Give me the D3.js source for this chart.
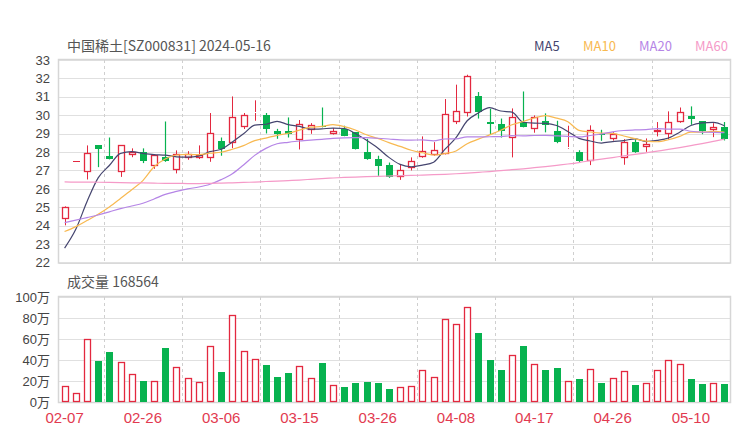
<!DOCTYPE html>
<html><head><meta charset="utf-8">
<script src="https://cdn.jsdelivr.net/npm/d3@7"></script>
<style>body{margin:0;background:#fff}svg{display:block}</style>
</head><body>
<script>
const dates=["02-07","02-08","02-19","02-20","02-21","02-22","02-23","02-26","02-27","02-28","02-29","03-01","03-04","03-05","03-06","03-07","03-08","03-11","03-12","03-13","03-14","03-15","03-18","03-19","03-20","03-21","03-22","03-25","03-26","03-27","03-28","03-29","04-01","04-02","04-03","04-08","04-09","04-10","04-11","04-12","04-15","04-16","04-17","04-18","04-19","04-22","04-23","04-24","04-25","04-26","04-29","04-30","05-06","05-07","05-08","05-09","05-10","05-13","05-14","05-15"];
const open=[24.36,27.54,26.89,28.36,27.80,26.89,27.82,27.98,27.22,27.71,27.00,27.67,27.67,27.67,28.61,28.50,29.36,30.12,29.99,29.12,29.16,28.65,29.21,29.41,28.97,29.26,29.07,28.00,27.62,27.31,26.62,27.13,27.71,27.82,27.89,29.61,30.12,31.02,29.63,29.55,28.76,29.63,29.23,29.70,29.12,28.20,28.00,27.49,28.98,28.69,27.69,28.54,28.29,29.08,28.99,29.61,29.95,29.66,29.18,29.37];
const high=[25.05,27.54,28.36,28.38,28.79,28.38,28.20,28.20,27.87,29.66,28.09,28.05,28.36,30.12,28.79,31.02,30.12,30.81,30.12,29.26,29.88,29.74,29.57,30.42,29.30,29.43,29.08,28.72,27.80,27.43,27.31,27.71,28.85,28.54,30.88,31.66,32.20,31.26,30.35,29.82,30.37,31.29,29.99,30.10,29.70,29.43,28.10,29.45,29.21,29.08,28.70,28.72,28.74,29.63,30.21,30.42,30.48,29.68,29.57,29.63];
const low=[24.02,27.54,26.51,27.18,27.60,26.65,27.72,27.40,27.09,27.47,26.84,27.58,27.62,27.47,27.80,28.21,29.25,29.70,29.01,28.72,28.79,28.14,28.99,29.34,28.95,28.86,28.14,27.58,26.71,26.60,26.49,27.00,27.69,27.80,27.87,29.52,29.93,29.82,28.97,28.79,27.71,29.34,29.05,29.07,28.48,28.18,27.43,27.29,28.61,28.62,27.31,27.96,28.01,28.85,28.67,29.59,29.48,28.97,28.81,28.63];
const close=[25.04,27.54,27.94,28.18,27.63,28.36,27.98,27.49,27.85,27.49,27.89,27.87,27.82,29.01,28.14,29.93,30.03,30.18,29.27,28.96,28.99,29.55,29.45,29.36,29.16,28.88,28.18,27.60,27.26,26.62,27.00,27.53,28.03,28.09,30.04,30.21,32.11,30.15,29.52,29.16,29.93,29.36,29.88,29.47,28.57,28.30,27.49,29.19,28.92,28.96,28.54,28.01,28.43,29.21,29.61,30.15,29.79,29.16,29.34,28.69];
const volume=[15.6,8.6,60.2,39.5,47.8,38.5,26.4,20.1,20.4,51.9,33.7,22.6,18.8,53.8,28.7,82.8,48.4,41.4,35.6,23.9,27.7,34.1,23.2,37.6,16.2,14.6,18.1,19.4,17.8,12.4,14.0,15.0,30.3,23.9,79.0,74.5,90.4,65.3,40.1,30.6,45.2,53.2,36.0,30.6,32.2,19.7,21.7,31.8,18.1,23.2,29.6,16.2,18.1,30.6,40.1,36.0,22.3,16.9,17.8,16.86];
const ma5=[22.78,23.80,25.30,26.60,27.27,27.93,28.02,27.93,27.86,27.83,27.74,27.72,27.78,28.02,28.15,28.55,28.99,29.46,29.51,29.67,29.49,29.39,29.24,29.26,29.30,29.28,29.01,28.64,28.22,27.71,27.33,27.20,27.29,27.45,28.14,28.78,29.70,30.12,30.41,30.23,30.17,29.62,29.57,29.56,29.44,29.12,28.74,28.60,28.49,28.57,28.62,28.72,28.57,28.63,28.76,29.08,29.44,29.58,29.61,29.43];
const ma10=[23.68,23.95,24.28,24.62,25.02,25.48,25.95,26.45,27.20,27.62,27.84,27.87,27.86,27.94,27.99,28.15,28.35,28.62,28.76,28.91,29.02,29.19,29.35,29.39,29.49,29.38,29.20,28.94,28.74,28.51,28.31,28.10,27.96,27.84,27.92,28.06,28.45,28.70,28.93,29.18,29.48,29.66,29.85,29.98,29.84,29.65,29.18,29.09,29.03,29.01,28.87,28.73,28.59,28.56,28.67,28.85,29.08,29.08,29.12,29.09];
const ma20=[24.17,24.30,24.44,24.58,24.75,24.93,25.07,25.22,25.45,25.70,25.86,26.00,26.10,26.25,26.50,26.82,27.30,27.82,28.20,28.45,28.53,28.60,28.65,28.69,28.74,28.77,28.78,28.78,28.75,28.71,28.66,28.65,28.66,28.61,28.71,28.72,28.82,28.82,28.83,28.84,28.89,28.88,28.90,28.91,28.88,28.85,28.82,28.90,28.98,29.10,29.17,29.20,29.22,29.27,29.25,29.25,29.13,29.08,29.07,29.05];
const ma60=[26.38,26.37,26.37,26.36,26.35,26.34,26.33,26.32,26.31,26.30,26.30,26.29,26.29,26.30,26.31,26.33,26.35,26.37,26.40,26.42,26.45,26.48,26.52,26.56,26.59,26.62,26.64,26.66,26.68,26.70,26.72,26.73,26.75,26.77,26.79,26.82,26.86,26.90,26.94,26.99,27.04,27.09,27.15,27.21,27.28,27.35,27.43,27.53,27.62,27.70,27.79,27.87,27.96,28.05,28.14,28.24,28.35,28.46,28.58,28.70];
const priceTicks=[22,23,24,25,26,27,28,29,30,31,32,33];
const volTicks=[0,20,40,60,80,100];
const labelIdx=[0,7,14,21,28,35,42,49,56];
const gridIdx=[4,11,18,25,32,39,46,53];
const maNames=["MA5","MA10","MA20","MA60"];
const maSeries=[ma5,ma10,ma20,ma60];
const maColors=["#45456f","#f8b951","#b585e6","#f59ac8"];
const title="中国稀土[SZ000831] 2024-05-16";
const volTitle="成交量 168564";

const RED="#e3283f", GREEN="#07b24f";
const FONT="'Noto Sans CJK SC','Noto Sans',sans-serif";
const AFONT="'Liberation Sans','Noto Sans CJK SC',sans-serif";
const L=59,R=730;
const svg=d3.select("body").append("svg").attr("width",740).attr("height",440).style("font-family",FONT);
const x=d3.scaleBand().domain(d3.range(dates.length)).range([L,R]).padding(0);
const yP=d3.scaleLinear().domain([22,33]).range([262.5,60]);
const yV=d3.scaleLinear().domain([0,100]).range([402,297]);
const cx=i=>Math.round(x(i)+x.bandwidth()/2)+0.5;

// title & legend
svg.append("text").attr("x",67).attr("y",51).attr("font-size",14).attr("fill","#555").text(title);
const legX=[534,583,639,695];
maNames.forEach((n,k)=>svg.append("text").attr("x",legX[k]).attr("y",51).attr("font-size",13).attr("fill",maColors[k]).text(n));
svg.append("text").attr("x",67).attr("y",287).attr("font-size",14).attr("fill","#555").text(volTitle);

function panel(yScale,ticks,fmt,top,bottom){
  const g=svg.append("g").attr("transform",`translate(${L},0)`)
    .call(d3.axisLeft(yScale).tickValues(ticks).tickFormat(fmt).tickSize(-(R-L)).tickPadding(9));
  g.select(".domain").remove();
  g.selectAll(".tick line").attr("stroke","#e0e0e0").attr("shape-rendering","crispEdges");
  g.selectAll(".tick text").attr("fill","#444").attr("font-size",13).style("font-family",AFONT);
  svg.append("g").selectAll("line").data(gridIdx).join("line")
    .attr("x1",i=>Math.round(x(i))+0.5).attr("x2",i=>Math.round(x(i))+0.5)
    .attr("y1",top).attr("y2",bottom).attr("stroke","#cfcfcf").attr("stroke-dasharray","3,3");
  svg.append("rect").attr("x",L-0.5).attr("y",top-0.5).attr("width",R-L+1).attr("height",bottom-top+1)
    .attr("fill","none").attr("stroke","#d6d6d6").attr("stroke-width",1.5);
}
panel(yP,priceTicks,d=>d,yP(33),yP(22));
panel(yV,volTicks,d=>d+"万",yV(100),yV(0));

// candles
const bw=7;
const cg=svg.append("g");
d3.range(dates.length).forEach(i=>{
  const up=close[i]>=open[i];
  const c=cx(i);
  const col=up?RED:GREEN;
  const yt=Math.round(yP(Math.max(open[i],close[i])));
  const yb=Math.round(yP(Math.min(open[i],close[i])));
  const yh=yP(high[i]), yl=yP(low[i]);
  if(yb-yt<1){
    cg.append("line").attr("x1",c-bw/2).attr("x2",c+bw/2).attr("y1",yt+0.5).attr("y2",yt+0.5).attr("stroke",col);
    cg.append("line").attr("x1",c).attr("x2",c).attr("y1",yh).attr("y2",yl).attr("stroke",col);
    return;
  }
  if(up){
    cg.append("line").attr("x1",c).attr("x2",c).attr("y1",yh).attr("y2",yt).attr("stroke",col);
    cg.append("line").attr("x1",c).attr("x2",c).attr("y1",yb).attr("y2",yl).attr("stroke",col);
    cg.append("rect").attr("x",c-3).attr("y",yt+0.5).attr("width",bw-1).attr("height",yb-yt-1)
      .attr("fill","#fff").attr("stroke",col).attr("stroke-width",1.3);
  } else {
    cg.append("line").attr("x1",c).attr("x2",c).attr("y1",yh).attr("y2",yl).attr("stroke",col).attr("stroke-width",1.2);
    cg.append("rect").attr("x",c-3.5).attr("y",yt).attr("width",bw).attr("height",Math.max(1,yb-yt)).attr("fill",col);
  }
});

// MA lines
const line=(arr)=>d3.line().x((d,i)=>x(i)+x.bandwidth()/2).y(d=>yP(d)).curve(d3.curveMonotoneX)(arr);
maSeries.forEach((arr,k)=>{
  svg.append("path").attr("d",line(arr)).attr("fill","none").attr("stroke",maColors[k]).attr("stroke-width",1.2);
});

// volume bars
const vg=svg.append("g");
d3.range(dates.length).forEach(i=>{
  const up=close[i]>=open[i];
  const c=cx(i);
  const yt=Math.round(yV(volume[i])), yb=yV(0);
  if(up){
    vg.append("rect").attr("x",c-3).attr("y",yt+0.5).attr("width",bw-1).attr("height",yb-yt-1)
      .attr("fill","#fff").attr("stroke",RED).attr("stroke-width",1.3);
  } else {
    vg.append("rect").attr("x",c-3.5).attr("y",yt).attr("width",bw).attr("height",yb-yt).attr("fill",GREEN);
  }
});

// x axis labels
const xa=svg.append("g").attr("transform","translate(0,402)")
  .call(d3.axisBottom(x).tickValues(labelIdx).tickFormat(i=>dates[i]).tickSize(0).tickPadding(10));
xa.select(".domain").remove();
xa.selectAll(".tick text").attr("fill","#e23a50").attr("font-size",15).style("font-family",AFONT);
</script>
</body></html>
